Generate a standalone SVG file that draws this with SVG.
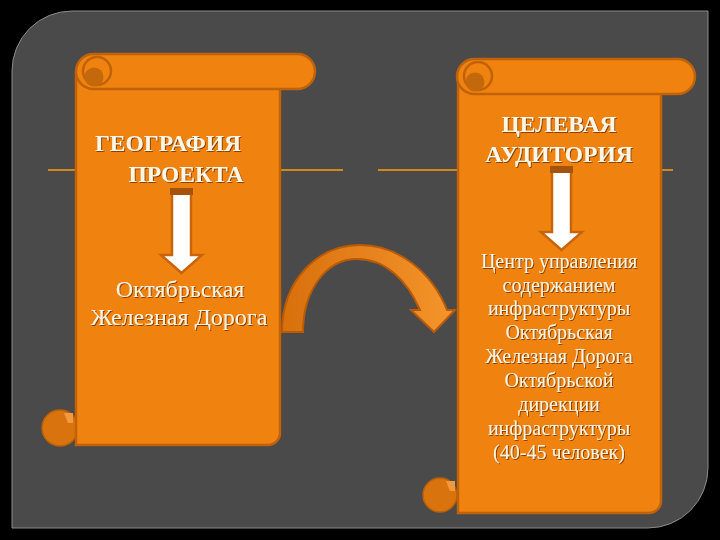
<svg xmlns="http://www.w3.org/2000/svg" width="720" height="540" viewBox="0 0 720 540">
<defs>
<style>
.roll{fill:#f0830f;stroke:#c0620a;stroke-width:2.5}
.body{fill:#f0830f;stroke:#c0620a;stroke-width:2.5}
.curl{fill:#d9730d;stroke:#b8600a;stroke-width:1.5}
.curlin{fill:#c4680c}
.hl{stroke:#d08a1c;stroke-width:2;fill:none}
.title{font-family:"Liberation Serif",serif;font-weight:bold;font-size:23.5px;fill:#fff6e6;text-anchor:middle}
.txt{font-family:"Liberation Serif",serif;fill:#fff3de;text-anchor:middle}
.darr{fill:#ffffff;stroke:#c8650c;stroke-width:2.5}
.cap{fill:#a5520c}
</style>
<filter id="sh" x="-10%" y="-10%" width="120%" height="130%">
<feDropShadow dx="1" dy="1" stdDeviation="0.6" flood-color="#6a3000" flood-opacity="0.8"/>
</filter>
<linearGradient id="cg" x1="0" y1="0" x2="1" y2="0">
<stop offset="0" stop-color="#d8700c"/>
<stop offset="1" stop-color="#f5952c"/>
</linearGradient>
</defs>
<rect x="0" y="0" width="720" height="540" fill="#000"/>
<path d="M72 11 H708 V468 A60 60 0 0 1 648 528 H12 V71 A60 60 0 0 1 72 11 Z" fill="#4a4a4a" stroke="#8a8a8a" stroke-width="1"/>

<g id="lines">
<line class="hl" x1="48" y1="170" x2="76" y2="170"/>
<line class="hl" x1="280" y1="170" x2="343" y2="170"/>
<line class="hl" x1="378" y1="170" x2="458" y2="170"/>
<line class="hl" x1="661" y1="170" x2="673" y2="170"/>
</g>

<g id="scroll-left">
<circle class="curl" cx="60" cy="428" r="18"/>
<path d="M64 413 h9 v10 h-5 z" fill="#f09a40"/>
<path class="body" d="M76 72 H280 V433 A12 12 0 0 1 268 445 H76 Z"/>
<rect class="roll" x="76" y="54" width="239" height="35" rx="17.5"/>
<circle class="roll" cx="97" cy="71" r="14"/>
<circle class="curlin" cx="94" cy="77" r="9.5"/>
<text class="title" filter="url(#sh)" x="168" y="151">ГЕОГРАФИЯ</text>
<text class="title" filter="url(#sh)" x="186" y="182">ПРОЕКТА</text>
<path class="darr" d="M172 191 H191 V255 H202 L181.5 273 L161 255 H172 Z"/>
<rect class="cap" x="170" y="188" width="23" height="7"/>
<text class="txt" filter="url(#sh)" font-size="24" x="180" y="297">Октябрьская</text>
<text class="txt" filter="url(#sh)" font-size="24" x="179" y="325">Железная Дорога</text>
</g>

<g id="scroll-right">
<circle class="curl" cx="440" cy="495" r="17"/>
<path d="M446 481 h9 v10 h-5 z" fill="#f09a40"/>
<path class="body" d="M458 77 H661 V501 A12 12 0 0 1 649 513 H458 Z"/>
<rect class="roll" x="457" y="59" width="238" height="35" rx="17.5"/>
<circle class="roll" cx="478" cy="76" r="14"/>
<circle class="curlin" cx="475" cy="82" r="9.5"/>
<text class="title" filter="url(#sh)" x="559" y="132">ЦЕЛЕВАЯ</text>
<text class="title" filter="url(#sh)" x="559" y="162">АУДИТОРИЯ</text>
<path class="darr" d="M552 169 H571 V232 H582 L561.5 250 L541 232 H552 Z"/>
<rect class="cap" x="550" y="166" width="23" height="7"/>
<g class="txt" font-size="20" filter="url(#sh)">
<text x="559" y="268">Центр управления</text>
<text x="559" y="292">содержанием</text>
<text x="559" y="315">инфраструктуры</text>
<text x="559" y="339">Октябрьская</text>
<text x="559" y="363">Железная Дорога</text>
<text x="559" y="387">Октябрьской</text>
<text x="559" y="411">дирекции</text>
<text x="559" y="435">инфраструктуры</text>
<text x="559" y="459">(40-45 человек)</text>
</g>
</g>

<g id="connectors">
<path d="M282 332 C282 280 318 245 360 245 C398 245 432 272 447 310 L455 310 L434 332 L411 310 L420 310 C407 280 385 259 357 259 C325 259 303 292 303 332 Z" fill="url(#cg)" stroke="#b85a08" stroke-width="2"/>
</g>
</svg>
